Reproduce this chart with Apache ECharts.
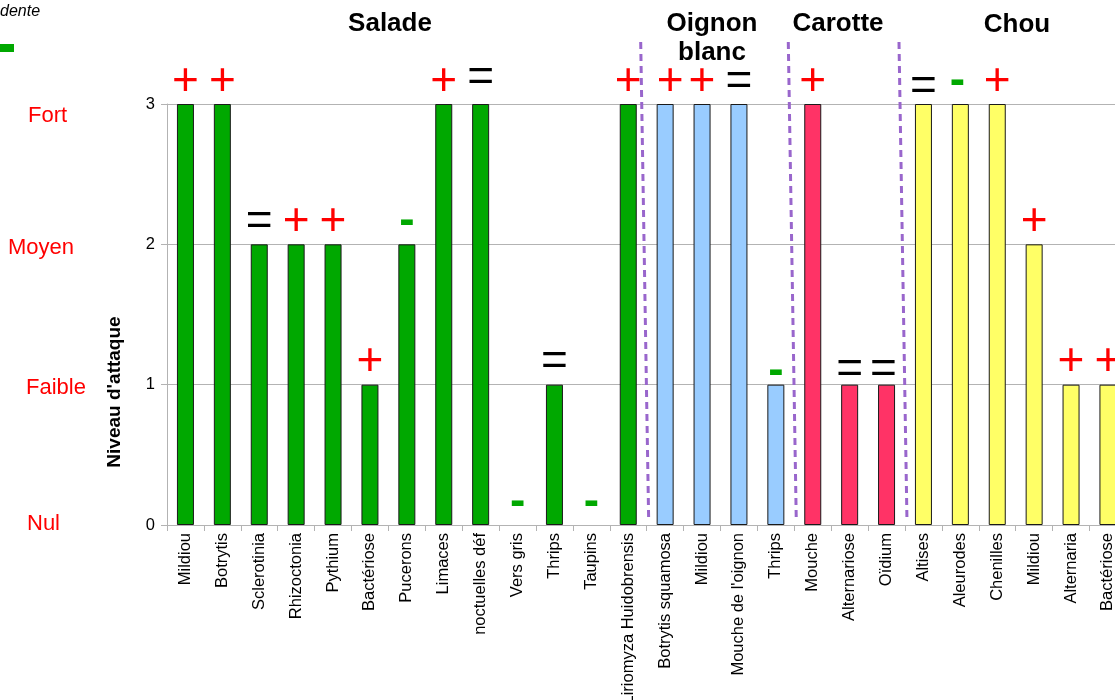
<!DOCTYPE html>
<html><head><meta charset="utf-8">
<script src="https://cdn.jsdelivr.net/npm/echarts@6/dist/echarts.min.js"></script>
<style>html,body{margin:0;padding:0;background:#fff}#c{width:1115px;height:700px}</style>
</head><body><div id="c"></div>
<script>
const categories = ['Mildiou','Botrytis','Sclerotinia','Rhizoctonia','Pythium','Bactériose','Pucerons','Limaces','noctuelles déf','Vers gris','Thrips','Taupins','Liriomyza Huidobrensis',
  'Botrytis squamosa','Mildiou','Mouche de l\'oignon','Thrips',
  'Mouche','Alternariose','Oïdium',
  'Altises','Aleurodes','Chenilles','Mildiou','Alternaria','Bactériose'];
const attackLevel = [3,3,2,2,2,1,2,3,3,0,1,0,3, 3,3,3,1, 3,1,1, 3,3,3,2,1,1];
const trend = ['+','+','=','+','+','+','-','+','=','-','=','-','+', '+','+','=','-', '+','=','=', '=','-','+','+','+','+'];
const cropNames = ['Salade','Oignon\nblanc','Carotte','Chou'];
const cropCounts = [13,4,3,6];
const yTickLabels = ['0','1','2','3'];
const levelNames = ['Nul','Faible','Moyen','Fort'];
const axisTitle = "Niveau d'attaque";

// ---- styling ----
const FONT = "'Liberation Sans', Arial, sans-serif";
const groupColors = ['#00a800','#99ccff','#ff3366','#ffff66'];
const trendColors = {'+':'#ff0000','=':'#000000','-':'#00a800'};
// hand-placed annotation nudges (pixel offsets of individual trend marks)
const labelNudge = {8:[0,-4], 13:[5,0], 16:[0,10], 18:[0,8], 19:[-3,8], 20:[0,5], 21:[-3,0]};
const groupOf = [];
cropCounts.forEach((n,g)=>{for(let i=0;i<n;i++) groupOf.push(g);});

const seriesData = attackLevel.map((v,i)=>({
  value:v,
  itemStyle:{color:groupColors[groupOf[i]], borderWidth: v === 0 ? 0 : 1},
  label:{color:trendColors[trend[i]], fontWeight: trend[i] === '-' ? 'bold' : 'normal',
         distance: trend[i] === '-' ? 0 : -1, offset: labelNudge[i] || [0,0]}
}));

const chart = echarts.init(document.getElementById('c'), null, {renderer:'canvas'});
chart.setOption({
  animation:false,
  textStyle:{fontFamily:FONT},
  grid:{left:167, top:104, width:959.4, height:421, containLabel:false, outerBoundsMode:'none'},
  xAxis:{type:'category', data:categories,
    axisLine:{lineStyle:{color:'#b3b3b3'}},
    axisTick:{show:true, length:6, lineStyle:{color:'#b3b3b3'}},
    axisLabel:{interval:0, rotate:90, fontSize:16.5, color:'#000', margin:8, fontFamily:FONT}},
  yAxis:{type:'value', min:0, max:3, interval:1,
    axisLine:{show:true, lineStyle:{color:'#b3b3b3'}},
    axisTick:{show:true, length:6, lineStyle:{color:'#b3b3b3'}},
    splitLine:{lineStyle:{color:'#b3b3b3'}},
    axisLabel:{fontSize:16.5, color:'#000', margin:12, fontFamily:FONT, formatter:(v)=>yTickLabels[v]}},
  series:[{type:'bar', data:seriesData, barWidth:17,
    itemStyle:{borderColor:'#1a1a1a', borderWidth:1},
    label:{show:true, position:'top', distance:-1, fontSize:46, lineHeight:46, fontFamily:FONT,
      formatter:(p)=>trend[p.dataIndex]}}]
});

// group separators
const g = [];
let acc = 0;
for (let k=0;k<cropCounts.length-1;k++){
  acc += cropCounts[k];
  const a = chart.convertToPixel({xAxisIndex:0}, acc-1);
  const b = chart.convertToPixel({xAxisIndex:0}, acc);
  const bx = (a+b)/2;
  g.push({type:'line', shape:{x1:bx-6, y1:42, x2:bx+2, y2:522},
    style:{stroke:'#9966cc', lineWidth:3, lineDash:[7,5]}, z:10});
}
// group titles
const titlePos = [[390,24],[712,38.5],[838,24],[1017,25]];
cropNames.forEach((t,k)=>{
  g.push({type:'text', x:titlePos[k][0], y:titlePos[k][1],
    style:{text:t, font:"bold 26px "+FONT, fill:'#000', align:'center', verticalAlign:'middle', lineHeight:29}});
});
// level names
const levelPos = [[27,524],[26,388],[8,248],[28,116]];
levelNames.forEach((t,k)=>{
  g.push({type:'text', x:levelPos[k][0], y:levelPos[k][1],
    style:{text:t, font:"22px "+FONT, fill:'#ff0000', align:'left', verticalAlign:'middle'}});
});
// axis title
g.push({type:'text', x:115, y:392, rotation:Math.PI/2,
  style:{text:axisTitle, font:"bold 19px "+FONT, fill:'#000', align:'center', verticalAlign:'middle'}});
// cut-off legend at top-left
g.push({type:'text', x:-40, y:22,
  style:{text:"par rapport à l'année\nprécédente", font:"italic 16px "+FONT, fill:'#000', align:'left', verticalAlign:'bottom', lineHeight:20}});
g.push({type:'rect', shape:{x:0, y:44, width:14, height:8}, style:{fill:'#00a800'}});
chart.setOption({graphic:g});
</script></body></html>
